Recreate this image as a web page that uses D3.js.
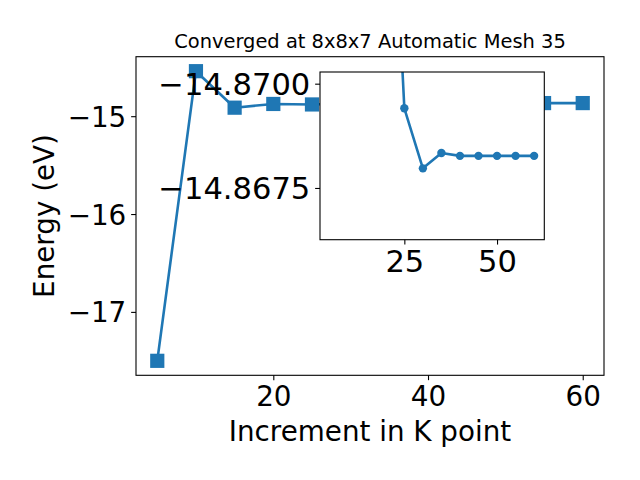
<!DOCTYPE html>
<html>
<head>
<meta charset="utf-8">
<script src="https://cdn.jsdelivr.net/npm/d3@7"></script>
<style>
  html, body { margin: 0; padding: 0; background: #fff; }
  svg { display: block; }
  text { font-family: "DejaVu Sans", sans-serif; fill: #000; }
</style>
</head>
<body>
<svg id="chart" width="640" height="480"></svg>
<script>
// ---- data ----
const kPoints = [5, 10, 15, 20, 25, 30, 35, 40, 45, 50, 55, 60];
const energies = [-17.50, -14.54, -14.913, -14.875, -14.880, -14.868, -14.868, -14.867, -14.867, -14.867, -14.866, -14.866];

const insetK = [20, 25, 30, 35, 40, 45, 50, 55, 60];
const insetEnergies = [-14.8783, -14.86941, -14.86797, -14.86834, -14.86827, -14.86827, -14.86827, -14.86827, -14.86827];
const insetYLim = [-14.87028, -14.86626]; // top, bottom (inverted axis)

const mainXTicks = [20, 40, 60];
const mainYTicks = [-15, -16, -17];
const insetXTicks = [25, 50];
const insetYTicks = [-14.8700, -14.8675];

const titleText = "Converged at 8x8x7 Automatic Mesh 35";
const xLabelText = "Increment in K point";
const yLabelText = "Energy (eV)";

// ---- layout ----
const svg = d3.select("#chart");
const blue = "#1f77b4";
const fmtMinus = s => s.replace("-", "\u2212");

const M = { left: 136, right: 604, top: 56.7, bottom: 375.3 };
const I = { left: 320, right: 544.3, top: 72, bottom: 239.7 };

const xPad = (d3.max(kPoints) - d3.min(kPoints)) * 0.05;
const x = d3.scaleLinear()
  .domain([d3.min(kPoints) - xPad, d3.max(kPoints) + xPad])
  .range([M.left, M.right]);
const yPad = (d3.max(energies) - d3.min(energies)) * 0.05;
const y = d3.scaleLinear()
  .domain([d3.min(energies) - yPad, d3.max(energies) + yPad])
  .range([M.bottom, M.top]);

const tickLen = 4.86, tickPad = 4.86, tickFont = 27.78, insetTickFont = 30.56;
const lw = 2.6;

// main plot
const main = svg.append("g");
main.append("rect").attr("x", M.left).attr("y", M.top)
  .attr("width", M.right - M.left).attr("height", M.bottom - M.top).attr("fill", "#fff");

const line = d3.line().x((d, i) => x(kPoints[i])).y(d => y(d));
main.append("path").datum(energies).attr("d", line)
  .attr("fill", "none").attr("stroke", blue).attr("stroke-width", lw)
  .attr("stroke-linejoin", "round");
const sq = 14.2;
main.selectAll("rect.pt").data(energies).enter().append("rect")
  .attr("class", "pt")
  .attr("x", (d, i) => x(kPoints[i]) - sq / 2)
  .attr("y", d => y(d) - sq / 2)
  .attr("width", sq).attr("height", sq).attr("fill", blue);

// main axes via d3 axis
const xAxis = d3.axisBottom(x).tickValues(mainXTicks).tickSize(tickLen).tickPadding(tickPad)
  .tickFormat(d3.format("d"));
const gx = main.append("g").attr("transform", `translate(0,${M.bottom})`).call(xAxis);
const yAxis = d3.axisLeft(y).tickValues(mainYTicks).tickSize(tickLen).tickPadding(tickPad)
  .tickFormat(d => fmtMinus(d3.format("d")(d)));
const gy = main.append("g").attr("transform", `translate(${M.left},0)`).call(yAxis);
[gx, gy].forEach(g => {
  g.select(".domain").remove();
  g.selectAll(".tick line").attr("stroke", "#000").attr("stroke-width", 1.1);
  g.selectAll(".tick text").attr("font-size", tickFont).attr("font-family", "DejaVu Sans, sans-serif").attr("fill", "#000");
});
gx.selectAll(".tick text").attr("dy", null).attr("y", tickLen + tickPad).attr("dominant-baseline", "hanging");
gy.selectAll(".tick text").attr("dy", "0.36em");

main.append("rect").attr("x", M.left).attr("y", M.top)
  .attr("width", M.right - M.left).attr("height", M.bottom - M.top)
  .attr("fill", "none").attr("stroke", "#000").attr("stroke-width", 1.1);

// title & labels
svg.append("text").attr("x", (M.left + M.right) / 2).attr("y", 47.5)
  .attr("text-anchor", "middle").attr("font-size", 19.44).text(titleText);
svg.append("text").attr("x", (M.left + M.right) / 2).attr("y", 441)
  .attr("text-anchor", "middle").attr("font-size", 27.78).text(xLabelText);
svg.append("text").attr("transform", `translate(54,${(M.top + M.bottom) / 2}) rotate(-90)`)
  .attr("text-anchor", "middle").attr("font-size", 27.78).text(yLabelText);

// ---- inset ----
const ix = d3.scaleLinear().domain(x.domain()).range([I.left, I.right]);
const iy = d3.scaleLinear().domain(insetYLim).range([I.top, I.bottom]);

const inset = svg.append("g");
inset.append("rect").attr("x", I.left).attr("y", I.top)
  .attr("width", I.right - I.left).attr("height", I.bottom - I.top).attr("fill", "#fff");
svg.append("clipPath").attr("id", "iclip").append("rect")
  .attr("x", I.left).attr("y", I.top).attr("width", I.right - I.left).attr("height", I.bottom - I.top);
const ig = inset.append("g").attr("clip-path", "url(#iclip)");
const iline = d3.line().x((d, i) => ix(insetK[i])).y(d => iy(d));
ig.append("path").datum(insetEnergies).attr("d", iline)
  .attr("fill", "none").attr("stroke", blue).attr("stroke-width", lw).attr("stroke-linejoin", "round");
ig.selectAll("circle").data(insetEnergies).enter().append("circle")
  .attr("cx", (d, i) => ix(insetK[i])).attr("cy", d => iy(d)).attr("r", 4.2).attr("fill", blue);

const ixAxis = d3.axisBottom(ix).tickValues(insetXTicks).tickSize(tickLen).tickPadding(tickPad)
  .tickFormat(d3.format("d"));
const gix = inset.append("g").attr("transform", `translate(0,${I.bottom})`).call(ixAxis);
const iyAxis = d3.axisLeft(iy).tickValues(insetYTicks).tickSize(tickLen).tickPadding(tickPad)
  .tickFormat(d => fmtMinus(d3.format(".4f")(d)));
const giy = inset.append("g").attr("transform", `translate(${I.left},0)`).call(iyAxis);
[gix, giy].forEach(g => {
  g.select(".domain").remove();
  g.selectAll(".tick line").attr("stroke", "#000").attr("stroke-width", 1.1);
  g.selectAll(".tick text").attr("font-size", insetTickFont).attr("font-family", "DejaVu Sans, sans-serif").attr("fill", "#000");
});
gix.selectAll(".tick text").attr("dy", null).attr("y", tickLen + tickPad).attr("dominant-baseline", "hanging");
giy.selectAll(".tick text").attr("dy", "0.36em");
inset.append("rect").attr("x", I.left).attr("y", I.top)
  .attr("width", I.right - I.left).attr("height", I.bottom - I.top)
  .attr("fill", "none").attr("stroke", "#000").attr("stroke-width", 1.1);
</script>
</body>
</html>
